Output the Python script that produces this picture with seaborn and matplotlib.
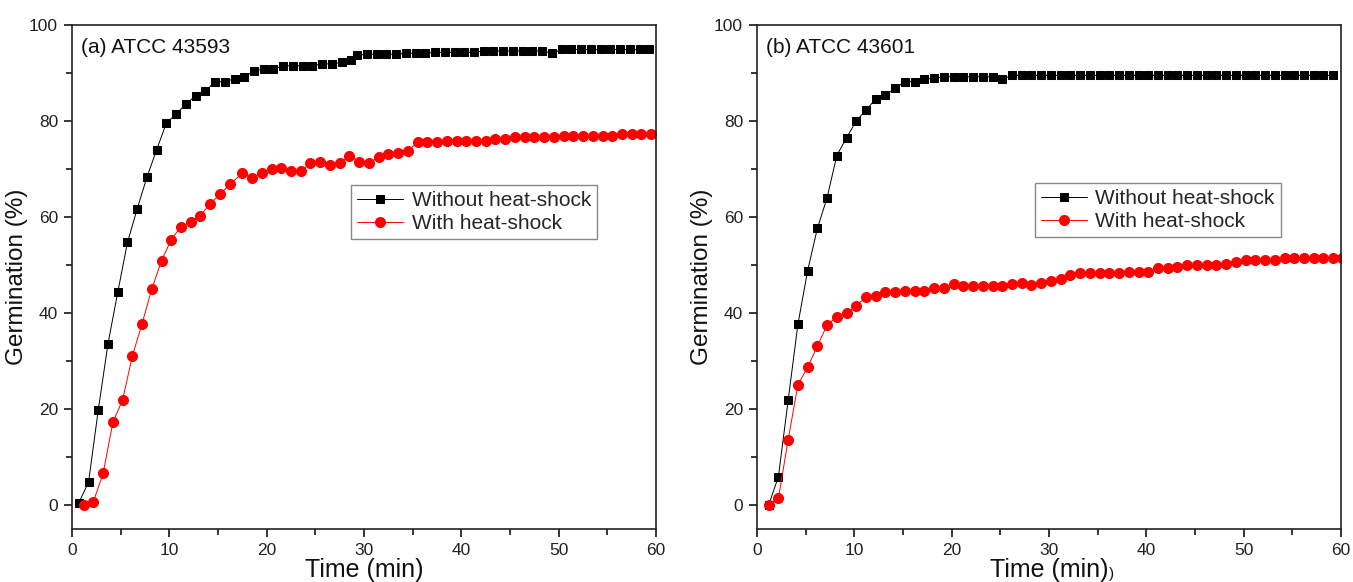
import matplotlib
matplotlib.use("Agg")
import matplotlib.pyplot as plt
import seaborn as sns
import pandas as pd
from matplotlib.ticker import MultipleLocator

# ---------------- data ----------------
# Panel (a) ATCC 43593
time_a_without = [0.7, 1.7, 2.7, 3.7, 4.7, 5.7, 6.7, 7.7, 8.7, 9.7, 10.7, 11.7, 12.7, 13.7, 14.7,
                  15.7, 16.7, 17.7, 18.7, 19.7, 20.7, 21.7, 22.7, 23.7, 24.7, 25.7, 26.7, 27.7, 28.7,
                  29.3, 30.3, 31.3, 32.3, 33.3, 34.3, 35.3, 36.3, 37.3, 38.3, 39.3, 40.3, 41.3, 42.3,
                  43.3, 44.3, 45.3, 46.3, 47.3, 48.3, 49.3, 50.3, 51.3, 52.3, 53.3, 54.3, 55.3, 56.3,
                  57.3, 58.3, 59.3]
germ_a_without = [0.5, 4.7, 19.8, 33.6, 44.3, 54.7, 61.7, 68.3, 74.0, 79.6, 81.4, 83.6, 85.2, 86.2, 88.2,
                  88.2, 88.8, 89.2, 90.4, 90.8, 90.8, 91.5, 91.5, 91.5, 91.5, 91.9, 91.9, 92.2, 92.6,
                  93.7, 93.9, 93.9, 93.9, 93.9, 94.1, 94.1, 94.1, 94.3, 94.3, 94.3, 94.3, 94.3, 94.6,
                  94.6, 94.6, 94.6, 94.6, 94.6, 94.6, 94.1, 94.9, 94.9, 94.9, 94.9, 94.9, 94.9, 94.9,
                  94.9, 94.9, 94.9]
time_a_with = [1.2, 2.2, 3.2, 4.2, 5.2, 6.2, 7.2, 8.2, 9.2, 10.2, 11.2, 12.2, 13.2, 14.2, 15.2, 16.2,
               17.5, 18.5, 19.5, 20.5, 21.5, 22.5, 23.5, 24.5, 25.5, 26.5, 27.5, 28.5, 29.5, 30.5,
               31.5, 32.5, 33.5, 34.5, 35.5, 36.5, 37.5, 38.5, 39.5, 40.5, 41.5, 42.5, 43.5, 44.5,
               45.5, 46.5, 47.5, 48.5, 49.5, 50.5, 51.5, 52.5, 53.5, 54.5, 55.5, 56.5, 57.5, 58.5, 59.5]
germ_a_with = [0.0, 0.7, 6.6, 17.2, 21.9, 31.0, 37.8, 45.0, 50.9, 55.3, 58.0, 59.0, 60.3, 62.8, 64.7, 66.8,
               69.1, 68.1, 69.2, 70.0, 70.3, 69.6, 69.6, 71.2, 71.5, 70.9, 71.2, 72.8, 71.5, 71.2,
               72.5, 73.1, 73.4, 73.7, 75.6, 75.6, 75.6, 75.9, 75.9, 75.9, 75.9, 75.9, 76.2, 76.2,
               76.6, 76.6, 76.6, 76.6, 76.6, 76.9, 76.9, 76.9, 76.9, 76.9, 76.9, 77.2, 77.2, 77.2, 77.2]

# Panel (b) ATCC 43601
time_b_without = [1.2, 2.2, 3.2, 4.2, 5.2, 6.2, 7.2, 8.2, 9.2, 10.2, 11.2, 12.2, 13.2, 14.2, 15.2,
                  16.2, 17.2, 18.2, 19.2, 20.2, 21.2, 22.2, 23.2, 24.2, 25.2, 26.2, 27.2, 28.2, 29.2,
                  30.2, 31.2, 32.2, 33.2, 34.2, 35.2, 36.2, 37.2, 38.2, 39.2, 40.2, 41.2, 42.2, 43.2,
                  44.2, 45.2, 46.2, 47.2, 48.2, 49.2, 50.2, 51.2, 52.2, 53.2, 54.2, 55.2, 56.2, 57.2,
                  58.2, 59.2]
germ_b_without = [0.0, 5.9, 21.8, 37.6, 48.8, 57.6, 64.0, 72.8, 76.5, 80.0, 82.3, 84.6, 85.4, 86.8, 88.2,
                  88.2, 88.7, 88.9, 89.2, 89.2, 89.2, 89.2, 89.2, 89.2, 88.7, 89.5, 89.5, 89.5, 89.5,
                  89.5, 89.5, 89.5, 89.5, 89.5, 89.5, 89.5, 89.5, 89.5, 89.5, 89.5, 89.5, 89.5, 89.5,
                  89.5, 89.5, 89.5, 89.5, 89.5, 89.5, 89.5, 89.5, 89.5, 89.5, 89.5, 89.5, 89.5, 89.5,
                  89.5, 89.5]
time_b_with = [1.2, 2.2, 3.2, 4.2, 5.2, 6.2, 7.2, 8.2, 9.2, 10.2, 11.2, 12.2, 13.2, 14.2, 15.2,
               16.2, 17.2, 18.2, 19.2, 20.2, 21.2, 22.2, 23.2, 24.2, 25.2, 26.2, 27.2, 28.2, 29.2,
               30.2, 31.2, 32.2, 33.2, 34.2, 35.2, 36.2, 37.2, 38.2, 39.2, 40.2, 41.2, 42.2, 43.2,
               44.2, 45.2, 46.2, 47.2, 48.2, 49.2, 50.2, 51.2, 52.2, 53.2, 54.2, 55.2, 56.2, 57.2,
               58.2, 59.2, 60.1]
germ_b_with = [0.0, 1.4, 13.6, 25.0, 28.7, 33.1, 37.5, 39.2, 39.9, 41.5, 43.3, 43.6, 44.3, 44.3, 44.6,
               44.6, 44.6, 45.3, 45.3, 46.0, 45.6, 45.6, 45.6, 45.6, 45.6, 46.0, 46.3, 45.9, 46.3,
               46.7, 47.0, 48.0, 48.3, 48.3, 48.3, 48.3, 48.3, 48.6, 48.6, 48.6, 49.3, 49.3, 49.6,
               50.0, 50.0, 50.0, 50.0, 50.3, 50.7, 51.0, 51.0, 51.0, 51.0, 51.4, 51.4, 51.4, 51.4,
               51.4, 51.4, 51.4]

panel_titles = ["(a) ATCC 43593", "(b) ATCC 43601"]
series_labels = ["Without heat-shock", "With heat-shock"]
x_labels = ["Time (min)", "Time (min)"]
y_label = "Germination (%)"

# ---------------- style ----------------
sns.set_theme(style="ticks")
plt.rcParams["font.family"] = ["Liberation Sans", "DejaVu Sans"]
plt.rcParams["axes.linewidth"] = 1.2
plt.rcParams["xtick.direction"] = "out"
plt.rcParams["ytick.direction"] = "out"

fig = plt.figure(figsize=(13.53, 5.82), dpi=100)
ax_a = fig.add_axes([0.0532, 0.0911, 0.4317, 0.8660])
ax_b = fig.add_axes([0.5595, 0.0911, 0.4316, 0.8660])

panels = [
    (ax_a, time_a_without, germ_a_without, time_a_with, germ_a_with, (0.478, 0.683)),
    (ax_b, time_b_without, germ_b_without, time_b_with, germ_b_with, (0.476, 0.687)),
]

for i, (ax, tw, gw, th, gh, leg_pos) in enumerate(panels):
    df_w = pd.DataFrame({"t": tw, "g": gw})
    df_h = pd.DataFrame({"t": th, "g": gh})
    sns.lineplot(data=df_w, x="t", y="g", ax=ax, color="black", lw=0.7,
                 marker="s", markersize=6.3, markeredgecolor="black",
                 markerfacecolor="black", label=series_labels[0], sort=False)
    sns.lineplot(data=df_h, x="t", y="g", ax=ax, color="#ff0000", lw=0.7,
                 marker="o", markersize=7.2, markeredgecolor="#ff0000",
                 markerfacecolor="#ff0000", label=series_labels[1], sort=False)
    ax.set_xlim(0, 60)
    ax.set_ylim(-5, 100)
    ax.xaxis.set_major_locator(MultipleLocator(10))
    ax.xaxis.set_minor_locator(MultipleLocator(5))
    ax.yaxis.set_major_locator(MultipleLocator(20))
    ax.yaxis.set_minor_locator(MultipleLocator(10))
    ax.tick_params(which="major", length=6, width=1.1, labelsize=12.5, color="black",
                   labelcolor="#222222", pad=4)
    ax.tick_params(which="minor", length=4, width=1.1, color="black")
    for s in ax.spines.values():
        s.set_visible(True)
        s.set_color("#222222")
    ax.set_xlabel(x_labels[i], fontsize=18, labelpad=0, color="#111111")
    ax.set_ylabel(y_label, fontsize=17.5, labelpad=1, color="#111111")
    ax.text(0.015, 0.975, panel_titles[i], transform=ax.transAxes, ha="left", va="top",
            fontsize=15, color="#111111")
    leg = ax.legend(loc="upper left", bbox_to_anchor=leg_pos, fontsize=15,
                    frameon=True, fancybox=False, framealpha=1, edgecolor="#888888",
                    handlelength=2.2, handletextpad=0.4, borderpad=0.3, labelspacing=0.2,
                    borderaxespad=0)
    leg.get_frame().set_linewidth(1.0)

# small extra parenthesis after the right x-label, as in the original
fig.canvas.draw()
renderer = fig.canvas.get_renderer()
bb = ax_b.xaxis.label.get_window_extent(renderer)
fig.text(bb.x1 / fig.bbox.width + 0.0005, bb.y0 / fig.bbox.height + 0.002, ")",
         fontsize=11, ha="left", va="bottom", color="#111111")

fig.savefig("out.png", dpi=100)
